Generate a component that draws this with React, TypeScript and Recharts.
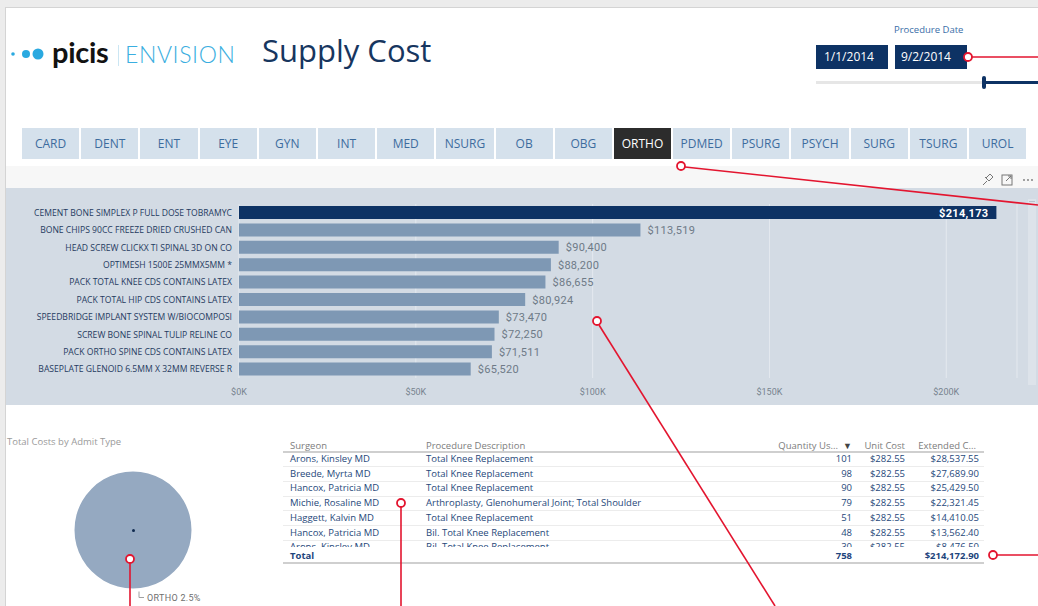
import React from "react";
import { Bar, BarChart, CartesianGrid, Cell, LabelList, Pie, PieChart, XAxis, YAxis } from "recharts";

const serviceTabs = ["CARD", "DENT", "ENT", "EYE", "GYN", "INT", "MED", "NSURG", "OB", "OBG", "ORTHO", "PDMED", "PSURG", "PSYCH", "SURG", "TSURG", "UROL"];
const activeTab = "ORTHO";

const supplyItems = [
  "CEMENT BONE SIMPLEX P FULL DOSE TOBRAMYC",
  "BONE CHIPS 90CC FREEZE DRIED CRUSHED CAN",
  "HEAD SCREW CLICKX TI SPINAL 3D ON CO",
  "OPTIMESH 1500E 25MMX5MM *",
  "PACK TOTAL KNEE CDS CONTAINS LATEX",
  "PACK TOTAL HIP CDS CONTAINS LATEX",
  "SPEEDBRIDGE IMPLANT SYSTEM W/BIOCOMPOSI",
  "SCREW BONE SPINAL TULIP RELINE CO",
  "PACK ORTHO SPINE CDS CONTAINS LATEX",
  "BASEPLATE GLENOID 6.5MM X 32MM REVERSE R",
];
const supplyCosts = [214173, 113519, 90400, 88200, 86655, 80924, 73470, 72250, 71511, 65520];
const costTicks = [0, 50000, 100000, 150000, 200000];

const admitTypes = ["ORTHO"];
const admitSharePct = [2.5];

const surgeons = ["Arons, Kinsley MD", "Breede, Myrta MD", "Hancox, Patricia MD", "Michie, Rosaline MD", "Haggett, Kalvin MD", "Hancox, Patricia MD", "Arons, Kinsley MD"];
const procedures = [
  "Total Knee Replacement",
  "Total Knee Replacement",
  "Total Knee Replacement",
  "Arthroplasty, Glenohumeral Joint; Total Shoulder",
  "Total Knee Replacement",
  "Bil. Total Knee Replacement",
  "Bil. Total Knee Replacement",
];
const quantities = [101, 98, 90, 79, 51, 48, 30];
const unitCosts = [282.55, 282.55, 282.55, 282.55, 282.55, 282.55, 282.55];
const extendedCosts = [28537.55, 27689.9, 25429.5, 22321.45, 14410.05, 13562.4, 8476.5];
const totalQuantity = 758;
const totalExtended = 214172.9;

const navy = "#0d3264";
const barColor = "#7e98b4";
const sans = '"Open Sans", "Noto Sans", sans-serif';

const money = (v: number) => "$" + v.toLocaleString("en-US", { minimumFractionDigits: 2, maximumFractionDigits: 2 });

const supplyRows = supplyItems.map((item, i) => ({ item, cost: supplyCosts[i] }));
const admitRows = admitTypes.map((name, i) => ({ name, value: admitSharePct[i] }));

function ItemTick(props: any) {
  const { x, y, payload } = props;
  return (
    <text x={x} y={y + 3} textAnchor="end" fill="#1f3a60" fontSize={8.6} fontFamily={sans}>
      {payload.value}
    </text>
  );
}

function ValueLabel(props: any) {
  const { x, y, width, height, value, index } = props;
  const txt = "$" + Number(value).toLocaleString("en-US");
  if (index === 0) {
    return (
      <text x={x + width - 8} y={y + height / 2 + 4} textAnchor="end" fill="#fff" fontSize={11} fontWeight={700} fontFamily="Roboto" letterSpacing={0.3}>
        {txt}
      </text>
    );
  }
  return (
    <text x={x + width + 7} y={y + height / 2 + 4} textAnchor="start" fill="#6e7a87" fontSize={11} fontFamily="Roboto" letterSpacing={0.3}>
      {txt}
    </text>
  );
}

function PieLabel(props: any) {
  const { cx, cy, outerRadius, name, value } = props;
  const top = cy + outerRadius + 3;
  return (
    <g>
      <polyline points={`${cx + 6},${top} ${cx + 6},${top + 6} ${cx + 11},${top + 6}`} fill="none" stroke="#a0a0a0" strokeWidth={1} />
      <text x={cx + 14} y={top + 9.5} fill="#6f6f6f" fontSize={9} fontFamily="Roboto" letterSpacing={0.3}>
        {`${name} ${value}%`}
      </text>
    </g>
  );
}

function Annotations() {
  const red = "#e3152f";
  const dots = [
    [968, 57],
    [681, 166],
    [597, 321],
    [401, 503],
    [993, 555],
    [130, 559],
  ];
  return (
    <svg width={1038} height={606} style={{ position: "absolute", left: 0, top: 0, pointerEvents: "none" }}>
      <g stroke={red} strokeWidth={1.6} fill="none">
        <line x1={972} y1={57} x2={1038} y2={57} />
        <line x1={685} y1={167} x2={1038} y2={205} />
        <line x1={599} y1={325} x2={775} y2={606} />
        <line x1={401} y1={507} x2={401} y2={606} />
        <line x1={997} y1={555} x2={1038} y2={555} />
        <line x1={130} y1={563} x2={130} y2={606} />
      </g>
      {dots.map(([x, y], i) => (
        <circle key={i} cx={x} cy={y} r={4} fill="#fff" stroke={red} strokeWidth={1.8} />
      ))}
    </svg>
  );
}

function SupplyTable() {
  const rowH = 14.7;
  const cellText: React.CSSProperties = { position: "absolute", fontSize: 9.5, color: "#26487a", whiteSpace: "nowrap", lineHeight: "14px" };
  const head: React.CSSProperties = { position: "absolute", top: 439, fontSize: 9.5, color: "#7d7d7d", whiteSpace: "nowrap", lineHeight: "14px" };
  return (
    <>
      <div style={{ ...head, left: 290 }}>Surgeon</div>
      <div style={{ ...head, left: 426 }}>Procedure Description</div>
      <div style={{ ...head, right: 1038 - 838 }}>Quantity Us...</div>
      <div style={{ ...head, left: 843, fontSize: 9, color: "#444" }}>▼</div>
      <div style={{ ...head, right: 1038 - 905 }}>Unit Cost</div>
      <div style={{ ...head, right: 1038 - 976 }}>Extended C...</div>
      <div style={{ position: "absolute", left: 283, top: 451, width: 701, height: 1.5, background: "#cfcfcf" }} />
      <div style={{ position: "absolute", left: 283, top: 452, width: 701, height: 95, overflow: "hidden" }}>
        {surgeons.map((s, i) => {
          const top = i * rowH;
          return (
            <React.Fragment key={i}>
              <div style={{ ...cellText, top: top, left: 7 }}>{s}</div>
              <div style={{ ...cellText, top: top, left: 143 }}>{procedures[i]}</div>
              <div style={{ ...cellText, top: top, right: 701 - 569 }}>{quantities[i]}</div>
              <div style={{ ...cellText, top: top, right: 701 - 622 }}>{money(unitCosts[i])}</div>
              <div style={{ ...cellText, top: top, right: 701 - 696 }}>{money(extendedCosts[i])}</div>
              <div style={{ position: "absolute", left: 0, top: top + rowH - 0.5, width: 701, height: 1, background: "#ececec" }} />
            </React.Fragment>
          );
        })}
      </div>
      <div style={{ ...cellText, top: 549, left: 290, fontWeight: 700, color: "#1e457c" }}>Total</div>
      <div style={{ ...cellText, top: 549, right: 1038 - 852, fontWeight: 700, color: "#1e457c" }}>{totalQuantity}</div>
      <div style={{ ...cellText, top: 549, right: 1038 - 979, fontWeight: 700, color: "#1e457c" }}>{money(totalExtended)}</div>
      <div style={{ position: "absolute", left: 283, top: 562, width: 701, height: 1.5, background: "#cfcfcf" }} />
    </>
  );
}

export default function App() {
  return (
    <div style={{ position: "absolute", left: 0, top: 0, width: 1038, height: 606, background: "#ececec", overflow: "hidden", fontFamily: sans }}>
      <div style={{ position: "absolute", left: 5, top: 7, right: 0, bottom: 0, background: "#fff", borderLeft: "1px solid #d4d4d4", borderTop: "1px solid #d4d4d4" }} />

      {/* logo + title */}
      <svg width={50} height={20} style={{ position: "absolute", left: 8, top: 44 }}>
        <circle cx={5} cy={10} r={1.8} fill="#2aa9e0" />
        <circle cx={18} cy={10} r={4} fill="#2aa9e0" />
        <circle cx={30} cy={10} r={5.5} fill="#2aa9e0" />
      </svg>
      <div style={{ position: "absolute", left: 52, top: 34, fontFamily: "Lato", fontWeight: 700, fontSize: 29, color: "#121212", letterSpacing: -0.3 }}>picis</div>
      <div style={{ position: "absolute", left: 118, top: 45, width: 1, height: 21, background: "#cbe6f3" }} />
      <div style={{ position: "absolute", left: 125, top: 40, fontFamily: "Lato", fontWeight: 300, fontSize: 23, color: "#3aaee0", letterSpacing: 0.6 }}>ENVISION</div>
      <div style={{ position: "absolute", left: 262, top: 29, fontSize: 31, color: "#17365f" }}>Supply Cost</div>

      {/* date slicer */}
      <div style={{ position: "absolute", left: 894, top: 23, fontSize: 9.5, color: "#3a6ea8" }}>Procedure Date</div>
      <div style={{ position: "absolute", left: 816, top: 45, width: 72, height: 24, background: navy, color: "#fff", fontSize: 12, lineHeight: "24px", paddingLeft: 8, boxSizing: "border-box" }}>1/1/2014</div>
      <div style={{ position: "absolute", left: 895, top: 45, width: 72, height: 24, background: navy, color: "#fff", fontSize: 12, lineHeight: "24px", paddingLeft: 6, boxSizing: "border-box" }}>9/2/2014</div>
      <div style={{ position: "absolute", left: 816, top: 81, width: 222, height: 3, background: "#e6e6e6" }} />
      <div style={{ position: "absolute", left: 984, top: 81, width: 54, height: 3, background: navy }} />
      <div style={{ position: "absolute", left: 982, top: 76, width: 4, height: 13, borderRadius: 2, background: navy }} />

      {/* service tabs */}
      <div style={{ position: "absolute", left: 22, top: 128, display: "flex", gap: 2 }}>
        {serviceTabs.map((t) => {
          const on = t === activeTab;
          return (
            <div
              key={t}
              style={{
                width: 57.2,
                height: 31,
                background: on ? "#2c2c2c" : "#d5e1ec",
                color: on ? "#fff" : "#3d6c9e",
                fontSize: 12,
                lineHeight: "31px",
                textAlign: "center",
              }}
            >
              {t}
            </div>
          );
        })}
      </div>
      <div style={{ position: "absolute", left: 6, top: 166, width: 1032, height: 22, background: "#f7f7f7" }} />
      <svg width={60} height={16} style={{ position: "absolute", left: 978, top: 172 }}>
        <g stroke="#777" strokeWidth={1} fill="none">
          <path d="M5 13 L9 9 M7 5 L11 9 M8 6 L12 2 L15 5 L11 9" />
          <rect x={24} y={3} width={10} height={10} />
          <path d="M28 9 L33 4 M30 4 L33 4 L33 7" />
        </g>
        <circle cx={46} cy={8} r={0.9} fill="#777" />
        <circle cx={50} cy={8} r={0.9} fill="#777" />
        <circle cx={54} cy={8} r={0.9} fill="#777" />
      </svg>

      {/* supply cost bar chart */}
      <div style={{ position: "absolute", left: 6, top: 188, width: 1032, height: 217, background: "#d3dbe4" }} />
      <div style={{ position: "absolute", left: 1028, top: 199, width: 8, height: 186, background: "#dde3ea" }} />
      <div style={{ position: "absolute", left: 1029, top: 201, width: 6, height: 1, background: "#b9c2cc" }} />
      <div style={{ position: "absolute", left: 5, top: 188 }}>
        <BarChart width={1025} height={217} layout="vertical" data={supplyRows} margin={{ top: 16, right: 13, bottom: 2, left: 0 }} barSize={13}>
          <CartesianGrid horizontal={false} stroke="#e4e9ef" />
          <XAxis
            type="number"
            domain={[0, 220000]}
            ticks={costTicks}
            tickFormatter={(v: number) => `$${v / 1000}K`}
            axisLine={false}
            tickLine={false}
            tickSize={0}
            tickMargin={11}
            height={25}
            tick={{ fontSize: 9, fill: "#77838f", fontFamily: "Roboto" }}
          />
          <YAxis
            type="category"
            dataKey="item"
            width={234}
            axisLine={false}
            tickLine={false}
            tickSize={0}
            tickMargin={7}
            interval={0}
            tick={<ItemTick />}
          />
          <Bar dataKey="cost" isAnimationActive={false}>
            {supplyRows.map((_, i) => (
              <Cell key={i} fill={i === 0 ? navy : barColor} />
            ))}
            <LabelList dataKey="cost" content={<ValueLabel />} />
          </Bar>
        </BarChart>
      </div>

      {/* admit type pie */}
      <div style={{ position: "absolute", left: 7, top: 435, fontSize: 9.5, color: "#9a9a9a" }}>Total Costs by Admit Type</div>
      <div style={{ position: "absolute", left: 33, top: 440 }}>
        <PieChart width={200} height={166} margin={{ top: 0, right: 0, bottom: 0, left: 0 }}>
          <Pie
            data={admitRows}
            dataKey="value"
            nameKey="name"
            cx={100}
            cy={90}
            outerRadius={58.5}
            startAngle={90}
            endAngle={-270}
            stroke="none"
            fill="#95a9c1"
            label={PieLabel}
            labelLine={false}
            isAnimationActive={false}
          />
        </PieChart>
      </div>
      <div style={{ position: "absolute", left: 132, top: 528.5, width: 3, height: 3, borderRadius: 2, background: "#0f2a4f" }} />

      <SupplyTable />
      <Annotations />
    </div>
  );
}
